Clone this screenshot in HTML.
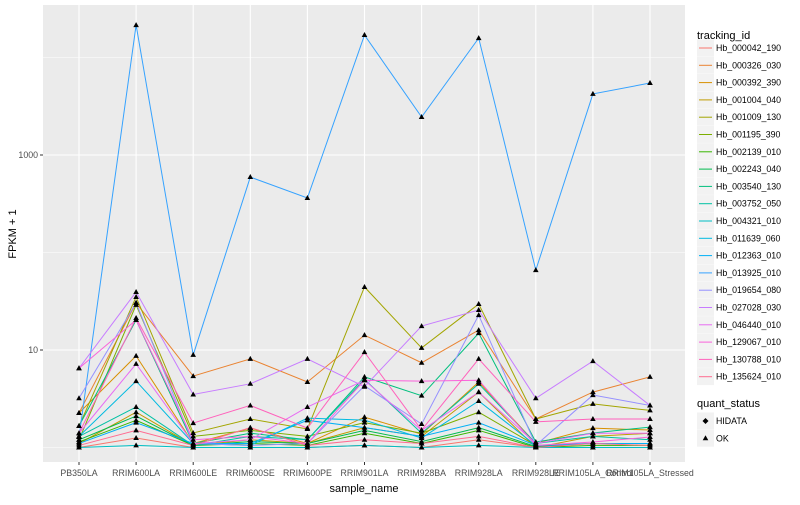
<!DOCTYPE html>
<html><head><meta charset="utf-8"><style>
body{margin:0;background:#fff;font-family:"Liberation Sans",sans-serif}
svg text{font-family:"Liberation Sans",sans-serif}
</style></head><body>
<svg id="chart" width="800" height="500"></svg>
<script>
const categories=["PB350LA","RRIM600LA","RRIM600LE","RRIM600SE","RRIM600PE","RRIM901LA","RRIM928BA","RRIM928LA","RRIM928LE","RRIM105LA_Control","RRIM105LA_Stressed"];
const seriesNames=["Hb_000042_190","Hb_000326_030","Hb_000392_390","Hb_001004_040","Hb_001009_130","Hb_001195_390","Hb_002139_010","Hb_002243_040","Hb_003540_130","Hb_003752_050","Hb_004321_010","Hb_011639_060","Hb_012363_010","Hb_013925_010","Hb_019654_080","Hb_027028_030","Hb_046440_010","Hb_129067_010","Hb_130788_010","Hb_135624_010"];
const seriesColors=["#F8766D","#EA8331","#D89000","#C09B00","#A3A500","#7CAE00","#39B600","#00BB4E","#00BF7D","#00C1A3","#00BFC4","#00BAE0","#00B0F6","#35A2FF","#9590FF","#C77CFF","#E76BF3","#FA62DB","#FF62BC","#FF6C91"];
const s01=[1,1.25,1,1,1,1.05,1,1.2,1,1,1];
const s02=[2.26,30.4,5.4,8.1,4.7,14.2,7.4,16,1.96,3.7,5.3];
const s03=[2.26,8.7,1.1,1.58,1.1,2.05,1.37,4.7,1.1,1.58,1.51];
const s04=[1.1,2.3,1.05,1.2,1.1,1.6,1.3,3.7,1,1.3,1.4];
const s05=[1.66,35,1.41,1.96,1.55,44.3,10.5,29.6,1.96,2.8,2.4];
const s06=[1.2,29,1.3,1.5,1.3,1.8,1.4,2.3,1.05,1.1,1.1];
const s07=[1.14,1.9,1.05,1.1,1.05,1.4,1.1,1.5,1,1.05,1.05];
const s08=[1.2,2.1,1.05,1.15,1.1,1.5,1.15,1.6,1.02,1.1,1.1];
const s09=[1.66,20.3,1.1,1.4,1.2,5.3,3.4,14.9,1.14,1.41,1.62];
const s10=[1.3,2.6,1.05,1.3,1.2,5.0,1.4,4.5,1.1,1.3,1.2];
const s11=[1,1.05,1,1,1,1.05,1,1.05,1,1,1];
const s12=[1.3,4.8,1.1,1.05,2.0,1.91,1.25,3.0,1.05,1.1,1.1];
const s13=[1.1,1.8,1.1,1.1,1.9,1.6,1.3,1.8,1.05,1.1,1.1];
const s14=[1.28,21500,8.9,594,362,17000,2450,15800,66,4230,5470];
const s15=[3.2,30.4,1.1,1.05,1.1,4.3,1.74,22.8,1.05,3.45,2.7];
const s16=[6.5,39.4,3.5,4.5,8.1,4.2,17.6,25.7,3.2,7.7,2.7];
const s17=[1.4,7.2,1.1,1.2,2.6,4.9,1.5,3.7,1.1,1.4,1.4];
const s18=[6.5,20.3,1.2,1.3,1.1,4.9,4.8,4.9,1.05,1.14,1.28];
const s19=[1.4,21.3,1.78,2.7,1.58,9.5,1.51,8.1,1.83,1.96,1.96];
const s20=[1.05,1.5,1.05,1.6,1.05,1.2,1.1,1.3,1,1.1,1.05];
const seriesValues=[s01,s02,s03,s04,s05,s06,s07,s08,s09,s10,s11,s12,s13,s14,s15,s16,s17,s18,s19,s20];
const yTickValues=[10,1000];
const yTickLabels=["10","1000"];
const yMinorValues=[1,100,10000];

const NS="http://www.w3.org/2000/svg";
const svg=document.getElementById("chart");
const P={l:43,r:685,t:5,b:462};
const x0=79,dx=(650-79)/(categories.length-1);
function xs(i){return x0+i*dx;}
function ys(v){return 350-(Math.log10(v)-1)*97.5;}
function mk(tag,attrs,parent){const e=document.createElementNS(NS,tag);for(const k in attrs)e.setAttribute(k,attrs[k]);(parent||svg).appendChild(e);return e;}

const panel=mk("rect",{x:P.l,y:P.t,width:P.r-P.l,height:P.b-P.t,fill:"#EBEBEB"});


yMinorValues.forEach(v=>{const l=mk("line",{x1:P.l,x2:P.r,y1:ys(v),y2:ys(v),stroke:"#fff","stroke-width":0.6});

});
yTickValues.forEach((v,i)=>{const l=mk("line",{x1:P.l,x2:P.r,y1:ys(v),y2:ys(v),stroke:"#fff","stroke-width":1.1});


const tk=mk("line",{x1:P.l-3,x2:P.l,y1:ys(v),y2:ys(v),stroke:"#333","stroke-width":1});


const t=mk("text",{x:P.l-5,y:ys(v)+3,"text-anchor":"end","font-size":"8.8",fill:"#4D4D4D"});t.textContent=yTickLabels[i];

});
categories.forEach((c,i)=>{const l=mk("line",{x1:xs(i),x2:xs(i),y1:P.t,y2:P.b,stroke:"#fff","stroke-width":1.1});


const tk=mk("line",{x1:xs(i),x2:xs(i),y1:P.b,y2:P.b+3,stroke:"#333","stroke-width":1});


const t=mk("text",{x:xs(i),y:P.b+14,"text-anchor":"middle","font-size":"8.8",fill:"#4D4D4D"});t.textContent=c;

});

seriesValues.forEach((vals,si)=>{
 const g=mk("g",{});
 
 
 const p=mk("polyline",{points:vals.map((v,i)=>xs(i)+","+ys(v)).join(" "),fill:"none",stroke:seriesColors[si],"stroke-width":1},g);
 
 
});
seriesValues.forEach((vals,si)=>{
 vals.forEach((v,i)=>{const x=xs(i),y=ys(v);
  const m=mk("polygon",{points:`${x},${y-3} ${x-2.8},${y+2} ${x+2.8},${y+2}`,fill:"#000"});
  
  });
});

let t=mk("text",{x:364,y:492,"text-anchor":"middle","font-size":"11",fill:"#000"});t.textContent="sample_name";


t=mk("text",{x:16,y:234,"text-anchor":"middle","font-size":"11",fill:"#000",transform:"rotate(-90 16 234)"});t.textContent="FPKM + 1";



t=mk("text",{x:697,y:39,"font-size":"11",fill:"#000"});t.textContent="tracking_id";


seriesNames.forEach((n,i)=>{const cy=48+i*17.3;
 const g=mk("g",{});
 
 
 mk("rect",{x:697,y:cy-8.6,width:17,height:17,fill:"#F2F2F2"},g);
 mk("line",{x1:699,x2:712,y1:cy,y2:cy,stroke:seriesColors[i],"stroke-width":1},g);
 const tt=mk("text",{x:716,y:cy+3,"font-size":"8.8",fill:"#000"},g);tt.textContent=n;});

t=mk("text",{x:697,y:407,"font-size":"11",fill:"#000"});t.textContent="quant_status";


[["HIDATA","d"],["OK","t"]].forEach((e,i)=>{const cy=421+i*17.3;
 const g=mk("g",{});
 
 
 mk("rect",{x:697,y:cy-8.6,width:17,height:17,fill:"#F2F2F2"},g);
 if(e[1]=="d")mk("polygon",{points:"705.5,418 708.5,421 705.5,424 702.5,421",fill:"#000"},g);
 else mk("polygon",{points:`705.5,${cy-3} 702.7,${cy+2} 708.3,${cy+2}`,fill:"#000"},g);
 const tt=mk("text",{x:716,y:cy+3,"font-size":"8.8",fill:"#000"},g);tt.textContent=e[0];});
</script>
</body></html>
